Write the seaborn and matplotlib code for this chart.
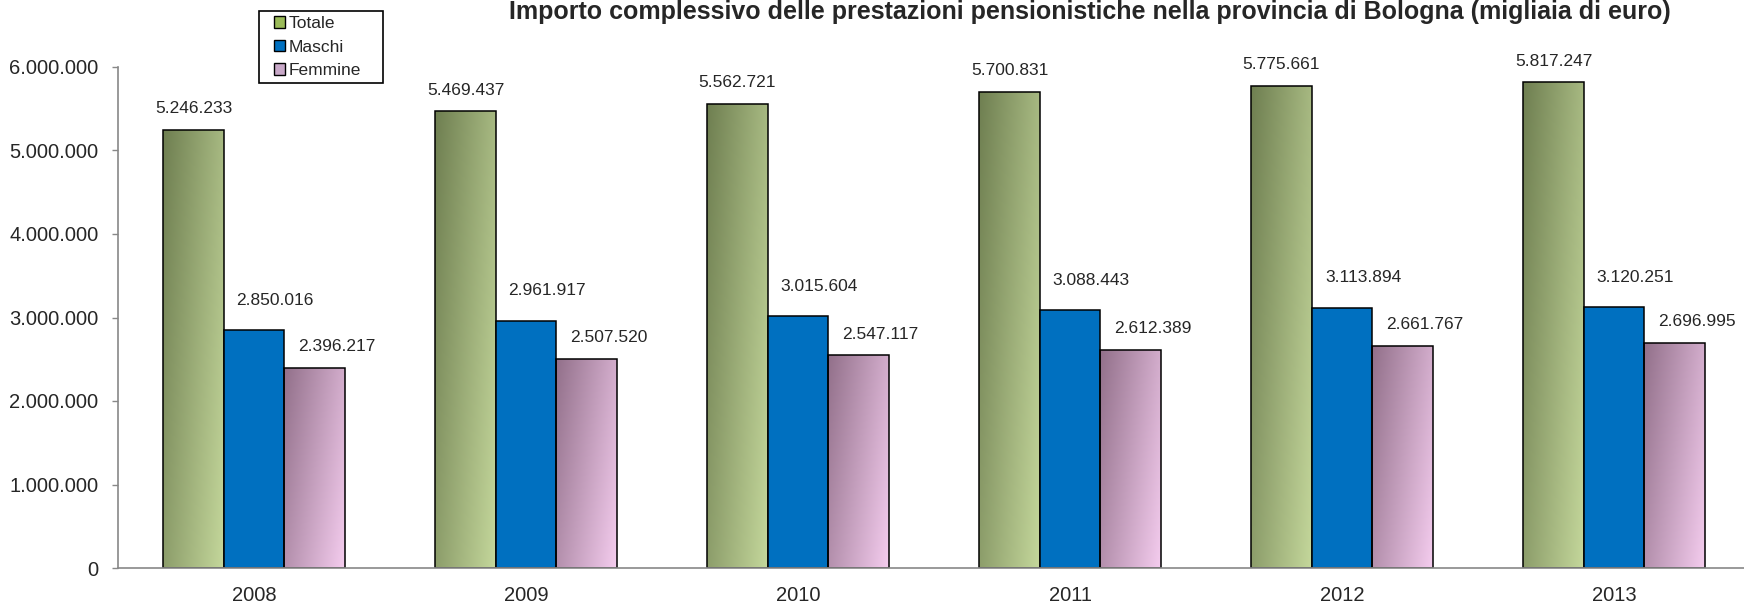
import numpy as np
import pandas as pd
import matplotlib
matplotlib.use('Agg')
import matplotlib.pyplot as plt
import matplotlib.ticker as mticker
from matplotlib.patches import Patch, Rectangle
from matplotlib.colors import LinearSegmentedColormap
import seaborn as sns

# data (migliaia di euro)
anni = ['2008', '2009', '2010', '2011', '2012', '2013']
totale = [5246233, 5469437, 5562721, 5700831, 5775661, 5817247]
maschi = [2850016, 2961917, 3015604, 3088443, 3113894, 3120251]
femmine = [2396217, 2507520, 2547117, 2612389, 2661767, 2696995]
serie = ['Totale', 'Maschi', 'Femmine']
titolo = 'Importo complessivo delle prestazioni pensionistiche nella provincia di Bologna (migliaia di euro)'

df = pd.DataFrame({'anno': anni * 3,
                   'serie': np.repeat(serie, len(anni)),
                   'valore': totale + maschi + femmine})

sns.set_style('white')
plt.rcParams['font.family'] = ['Liberation Sans', 'DejaVu Sans']

W, H = 1744, 606
fig = plt.figure(figsize=(W / 100, H / 100), dpi=100)
ax = fig.add_axes([118 / W, (H - 568) / H, 1632 / W, 501 / H])

palette = {'Totale': '#9bbb59', 'Maschi': '#0070c0', 'Femmine': '#d8b4d2'}
sns.barplot(data=df, x='anno', y='valore', hue='serie', hue_order=serie, order=anni,
            palette=palette, width=0.667, gap=0, edgecolor='black', linewidth=1.1,
            saturation=1, legend=False, ax=ax, errorbar=None)

# gradients for Totale / Femmine bars
grad = {'Totale': LinearSegmentedColormap.from_list('t', ['#6f7f51', '#c4d79b']),
        'Femmine': LinearSegmentedColormap.from_list('f', ['#92708a', '#f4ccee'])}
uu, vv = np.meshgrid(np.linspace(0, 1, 60), np.linspace(0, 1, 200))
tt = 0.65 * uu + 0.35 * vv  # origin upper: v=0 top
n = len(anni)
for i, s in enumerate(serie):
    for p in ax.patches[i * n:(i + 1) * n]:
        if s in grad:
            x0, w = p.get_x(), p.get_width()
            h = p.get_height()
            im = ax.imshow(tt, cmap=grad[s], extent=(x0, x0 + w, 0, h), aspect='auto',
                           origin='upper', zorder=p.get_zorder() - 0.1, interpolation='bilinear')
            im.set_clip_path(p)
            p.set_facecolor('none')

# value labels
offs = {'Totale': (0, 21), 'Maschi': (21, 30), 'Femmine': (22, 21)}
for i, s in enumerate(serie):
    for p in ax.patches[i * n:(i + 1) * n]:
        v = p.get_height()
        dx, dy = offs[s]
        ax.annotate(f'{int(round(v)):,}'.replace(',', '.'),
                    (p.get_x() + p.get_width() / 2, v),
                    xytext=(dx * 0.72, dy * 0.72), textcoords='offset points',
                    ha='center', va='center', fontsize=12.5)

ax.set_xlim(-0.5, 5.5)
ax.set_ylim(0, 6000000)
ax.set_yticks(np.arange(0, 6000001, 1000000))
ax.yaxis.set_major_formatter(mticker.FuncFormatter(lambda v, _: f'{int(v):,}'.replace(',', '.')))
ax.set_xticks(range(n))
ax.set_xticklabels(anni)
ax.set_xticks(np.arange(-0.5, 6, 1), minor=True)
ax.tick_params(axis='x', which='major', length=0, pad=13, labelsize=14.5)
ax.tick_params(axis='x', which='minor', length=5, color='#888888', width=1, direction='out')
ax.tick_params(axis='y', length=4, color='#888888', width=1, pad=10, labelsize=14.5, left=True, direction='out')
ax.set_xlabel('')
ax.set_ylabel('')
sns.despine(ax=ax)
for side in ['left', 'bottom']:
    ax.spines[side].set_color('#888888')
    ax.spines[side].set_linewidth(1.2)

# title at the top (kept fully inside the figure)
fig.text(1090 / W, 1 - 19 / H, titolo, ha='center', va='baseline', fontsize=18, fontweight='bold')

# legend
handles = [Patch(facecolor=c, edgecolor='black', linewidth=1) for c in ['#9bbb59', '#0070c0', '#c8a8c8']]
fig.legend(handles, serie, loc='upper left', bbox_to_anchor=(274 / W, 1 - 16 / H),
           frameon=False, fontsize=12.5, handlelength=0.65, handleheight=0.65,
           handletextpad=0.2, labelspacing=0.5, borderpad=0, borderaxespad=0)
fig.patches.append(Rectangle((259 / W, 1 - 83 / H), 124 / W, 72 / H, transform=fig.transFigure,
                             fill=False, edgecolor='black', linewidth=1.2))

fig.savefig('out.png', dpi=100)
